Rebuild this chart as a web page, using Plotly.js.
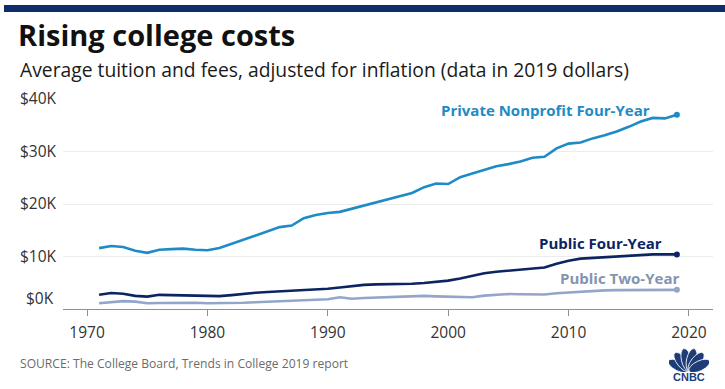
<!DOCTYPE html>
<html>
<head>
<meta charset="utf-8">
<script src="https://cdn.plot.ly/plotly-3.0.1.min.js"></script>
<style>
html,body{margin:0;padding:0;background:#fff;}
#chart{width:725px;height:389px;}
</style>
</head>
<body>
<div id="chart"></div>
<script>
// ---- Data (values in 2019 dollars) ----
const years = [1971,1972,1973,1974,1975,1976,1977,1978,1979,1980,
  1981,1982,1983,1984,1985,1986,1987,1988,1989,1990,
  1991,1992,1993,1994,1995,1996,1997,1998,1999,2000,
  2001,2002,2003,2004,2005,2006,2007,2008,2009,2010,
  2011,2012,2013,2014,2015,2016,2017,2018,2019];

const privateNonprofit = [11600,12000,11800,11100,10700,11300,11400,11500,11300,11200,
  11600,12400,13200,14000,14800,15600,15900,17300,17900,18300,
  18500,19100,19700,20300,20800,21400,22100,23200,23900,23800,
  25100,25800,26500,27200,27600,28100,28800,29000,30600,31500,
  31700,32500,33100,33800,34700,35700,36400,36300,37000];

const publicFour = [2700,3050,2900,2500,2350,2700,2650,2600,2550,2450,
  2450,2650,2900,3100,3250,3350,3450,3550,3650,3850,
  4100,4400,4600,4700,4700,4750,4800,4950,5150,5400,
  5800,6300,6800,7100,7300,7400,7600,7900,8600,9200,
  9600,9750,9850,10000,10200,10300,10400,10400,10400];

const publicTwo = [1100,1350,1500,1400,1100,1150,1200,1200,1200,1100,
  1100,1100,1200,1300,1400,1500,1550,1650,1700,1850,
  2250,1950,2100,2200,2250,2350,2400,2500,2400,2350,
  2250,2250,2550,2750,2850,2800,2750,2750,3000,3150,
  3350,3450,3550,3600,3600,3600,3650,3600,3650];

const seriesNames = ["Private Nonprofit Four-Year","Public Four-Year","Public Two-Year"];
const xTickVals = [1970,1980,1990,2000,2010,2020];
const yTickVals = [10000,20000,30000,40000];
const yTickText = ["$10K","$20K","$30K","$40K"];
const zeroLabel = "$0K";

const titleText = "Rising college costs";
const subtitleText = "Average tuition and fees, adjusted for inflation (data in 2019 dollars)";
const sourceText = "SOURCE: The College Board, Trends in College 2019 report";

// ---- Styles ----
const cPrivate = "#1e8bc6";
const cFour = "#0c2462";
const cTwo = "#93a6c9";
const cTwoText = "#8494b1";
const navy = "#0f2d69";
const font = "'Open Sans', Lato, sans-serif";

const lastIdx = years.length - 1;
function lineTrace(y, color, name) {
  return {
    x: years, y: y, name: name, type: "scatter", mode: "lines",
    line: {color: color, width: 2.6, shape: "linear"},
    hoverinfo: "skip", showlegend: false
  };
}
function endDot(y, color) {
  return {
    x: [years[lastIdx]], y: [y[lastIdx]], type: "scatter", mode: "markers",
    marker: {color: color, size: 6}, hoverinfo: "skip", showlegend: false, cliponaxis: false
  };
}

const traces = [
  lineTrace(publicTwo, cTwo, seriesNames[2]),
  lineTrace(publicFour, cFour, seriesNames[1]),
  lineTrace(privateNonprofit, cPrivate, seriesNames[0]),
  endDot(publicTwo, cTwo),
  endDot(publicFour, cFour),
  endDot(privateNonprofit, cPrivate)
];

// peacock logo as inline svg
const feathers = [-64,-38,-13,13,38,64].map(a =>
  `<ellipse cx="20" cy="12.5" rx="5" ry="11.5" transform="rotate(${a} 20 24)" fill="#1d3c78" stroke="#ffffff" stroke-width="0.8"/>`).join("");
const logoSvg = `<svg xmlns="http://www.w3.org/2000/svg" width="40" height="25" viewBox="0 0 40 25">${feathers}</svg>`;
const logoSrc = "data:image/svg+xml;charset=utf-8," + encodeURIComponent(logoSvg);

const W = 725, H = 389, L = 63, R = 12, T = 99, B = 80;
const pw = W - L - R, ph = H - T - B;
const px = v => (v - L) / pw;          // pixel x -> paper
const py = v => (H - B - v) / ph;      // pixel y -> paper

const layout = {
  width: W, height: H,
  margin: {l: L, r: R, t: T, b: B, pad: 0},
  paper_bgcolor: "#ffffff", plot_bgcolor: "#ffffff",
  font: {family: font, color: "#333333"},
  title: {
    text: "<b>" + titleText + "</b>",
    font: {family: font, size: 29, color: "#111111"},
    xref: "container", yref: "container",
    x: 18 / W, xanchor: "left",
    y: 1 - 36 / H, yanchor: "middle"
  },
  xaxis: {
    range: [1968, 2022], tickvals: xTickVals,
    showgrid: false, zeroline: false,
    showline: true, linecolor: "#8f8f8f", linewidth: 1,
    ticks: "outside", ticklen: 6, tickcolor: "#8f8f8f", tickwidth: 1,
    tickfont: {family: font, size: 15.5, color: "#333333"},
    ticklabelstandoff: 3, fixedrange: true
  },
  yaxis: {
    range: [0, 40000], tickvals: yTickVals, ticktext: yTickText,
    showgrid: true, gridcolor: "#ececec", gridwidth: 1,
    zeroline: false, showline: false, ticks: "",
    tickfont: {family: font, size: 15.5, color: "#333333"},
    ticklabelstandoff: 6, fixedrange: true
  },
  shapes: [{
    type: "rect", xref: "paper", yref: "paper",
    x0: px(4), x1: px(725), y0: py(12), y1: py(5),
    fillcolor: navy, line: {width: 0}, layer: "above"
  }],
  images: [{
    source: logoSrc, xref: "paper", yref: "paper",
    x: px(669), y: py(347), sizex: 40 / pw, sizey: 25 / ph,
    xanchor: "left", yanchor: "top", sizing: "stretch", layer: "above"
  }],
  annotations: [
    {text: subtitleText, xref: "paper", yref: "paper", x: px(18), y: py(69),
     xanchor: "left", yanchor: "middle", showarrow: false,
     font: {family: font, size: 19.3, color: "#1a1a1a"}},
    {text: zeroLabel, xref: "paper", yref: "y", x: px(56), y: 2100,
     xanchor: "right", yanchor: "middle", showarrow: false,
     font: {family: font, size: 15.5, color: "#333333"}},
    {text: "<b>" + seriesNames[0] + "</b>", xref: "x", yref: "y", x: 2016.9, y: 38000,
     xanchor: "right", yanchor: "middle", showarrow: false,
     font: {family: font, size: 15, color: cPrivate}},
    {text: "<b>" + seriesNames[1] + "</b>", xref: "x", yref: "y", x: 2017.9, y: 12600,
     xanchor: "right", yanchor: "middle", showarrow: false,
     font: {family: font, size: 15, color: cFour}},
    {text: "<b>" + seriesNames[2] + "</b>", xref: "x", yref: "y", x: 2019.3, y: 5950,
     xanchor: "right", yanchor: "middle", showarrow: false,
     font: {family: font, size: 15, color: cTwoText}},
    {text: sourceText, xref: "paper", yref: "paper", x: px(18), y: py(363),
     xanchor: "left", yanchor: "middle", showarrow: false,
     font: {family: font, size: 12.1, color: "#6b6b6b"}},
    {text: "<b>CNBC</b>", xref: "paper", yref: "paper", x: px(689), y: py(377),
     xanchor: "center", yanchor: "middle", showarrow: false,
     font: {family: "'Liberation Sans', Arial, sans-serif", size: 11, color: "#1d3c78"}}
  ]
};

Plotly.newPlot("chart", traces, layout, {staticPlot: true, displayModeBar: false});
</script>
</body>
</html>
